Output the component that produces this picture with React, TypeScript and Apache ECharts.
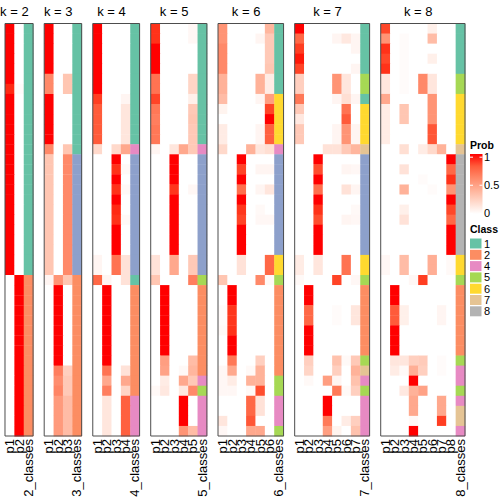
import React, { useEffect, useRef } from "react";
import * as echarts from "echarts";

const FONT = "'Liberation Sans', Arial, Helvetica, sans-serif";

// ---------- data ----------
const kValues = [2, 3, 4, 5, 6, 7, 8];
const sampleIds = Array.from({ length: 41 }, (_, i) => "s" + (i + 1));

const prob2 = [
  [1, 0], [1, 0], [1, 0], [1, 0], [1, 0], [1, 0], [0.95, 0.02], [1, 0], [1, 0], [1, 0],
  [1, 0], [1, 0], [1, 0], [1, 0], [1, 0], [1, 0], [1, 0], [1, 0], [1, 0], [1, 0],
  [1, 0], [1, 0], [1, 0], [1, 0], [1, 0], [0, 1], [0, 1], [0, 1], [0, 1], [0, 1],
  [0, 1], [0, 1], [0, 1], [0, 1], [0, 1], [0, 1], [0, 1], [0, 1], [0, 1], [0, 1], [0, 1],
];
const class2 = [
  1, 1, 1, 1, 1, 1, 1, 1, 1, 1, 1, 1, 1, 1, 1, 1, 1, 1, 1, 1, 1, 1, 1, 1, 1,
  2, 2, 2, 2, 2, 2, 2, 2, 2, 2, 2, 2, 2, 2, 2, 2,
];

const prob3 = [
  [1, 0, 0], [1, 0, 0], [1, 0, 0], [1, 0, 0], [1, 0, 0],
  [0.6, 0, 0.3], [0.6, 0, 0.3],
  [1, 0, 0], [1, 0, 0], [1, 0, 0], [1, 0, 0], [1, 0, 0],
  [0.6, 0, 0.3],
  [0.3, 0, 0.6], [0.3, 0, 0.6], [0.3, 0, 0.6], [0.3, 0, 0.6], [0.3, 0, 0.6], [0.3, 0, 0.6],
  [0.3, 0, 0.6], [0.3, 0, 0.6], [0.3, 0, 0.6], [0.3, 0, 0.6], [0.3, 0, 0.6], [0.3, 0, 0.6],
  [0.05, 0.55, 0.3],
  [0, 1, 0], [0, 1, 0], [0, 1, 0], [0, 1, 0], [0, 1, 0], [0, 1, 0], [0, 1, 0], [0, 1, 0],
  [0, 0.65, 0.25], [0, 0.58, 0.28], [0, 0.62, 0.28],
  [0, 0.52, 0.35], [0, 0.52, 0.35], [0, 0.52, 0.35], [0, 0.52, 0.35],
];
const class3 = [
  1, 1, 1, 1, 1, 1, 1, 1, 1, 1, 1, 1, 1,
  3, 3, 3, 3, 3, 3, 3, 3, 3, 3, 3, 3,
  2, 2, 2, 2, 2, 2, 2, 2, 2, 2, 2, 2, 2, 2, 2, 2,
];

const prob4 = [
  [1, 0, 0, 0], [1, 0, 0, 0], [1, 0, 0, 0], [1, 0, 0, 0], [1, 0, 0, 0], [1, 0, 0, 0], [1, 0, 0, 0],
  [0.9, 0, 0, 0.05],
  [0.8, 0, 0, 0.13], [0.8, 0, 0, 0.13], [0.8, 0, 0, 0.13], [0.8, 0, 0, 0.13],
  [0.2, 0, 0.2, 0.45],
  [0, 0, 1, 0], [0, 0, 0.93, 0.03], [0, 0, 1, 0], [0, 0, 0.93, 0.03], [0, 0, 1, 0],
  [0, 0, 0.95, 0], [0, 0, 0.93, 0.03], [0, 0, 1, 0], [0, 0, 1, 0], [0, 0, 1, 0],
  [0.05, 0, 0.7, 0.15], [0.05, 0, 0.7, 0.15],
  [0.75, 0.05, 0, 0.15],
  [0, 1, 0, 0], [0, 1, 0, 0], [0, 1, 0, 0], [0, 1, 0, 0], [0, 1, 0, 0], [0, 1, 0, 0], [0, 1, 0, 0], [0, 1, 0, 0],
  [0, 0.7, 0, 0.15], [0, 0.45, 0, 0.45], [0, 0.65, 0, 0.22],
  [0, 0.13, 0, 0.78], [0, 0.13, 0, 0.78], [0, 0.13, 0, 0.78], [0, 0.13, 0, 0.78],
];
const class4 = [
  1, 1, 1, 1, 1, 1, 1, 1, 1, 1, 1, 1,
  4,
  3, 3, 3, 3, 3, 3, 3, 3, 3, 3, 3, 3,
  1,
  2, 2, 2, 2, 2, 2, 2, 2, 2, 2, 2,
  4, 4, 4, 4,
];

const prob5 = [
  [0.93, 0, 0, 0, 0.04], [0.93, 0, 0, 0, 0.04],
  [1, 0, 0, 0, 0], [1, 0, 0, 0, 0], [1, 0, 0, 0, 0],
  [0.7, 0, 0, 0, 0.22], [0.7, 0, 0, 0, 0.22],
  [0.88, 0, 0, 0, 0.08],
  [0.68, 0, 0, 0, 0.28], [0.65, 0, 0, 0, 0.3], [0.68, 0, 0, 0, 0.28], [0.68, 0, 0, 0, 0.28],
  [0.05, 0, 0.13, 0.45, 0.28],
  [0, 0, 1, 0, 0], [0, 0, 1, 0, 0], [0, 0, 1, 0, 0], [0, 0, 0.92, 0, 0.04],
  [0, 0, 1, 0, 0], [0, 0, 1, 0, 0], [0, 0, 1, 0, 0], [0, 0, 1, 0, 0], [0, 0, 1, 0, 0], [0, 0, 1, 0, 0],
  [0.15, 0, 0.45, 0, 0.28], [0.15, 0, 0.45, 0, 0.28],
  [0.3, 0, 0, 0, 0.65],
  [0, 1, 0, 0, 0], [0, 1, 0, 0, 0], [0, 1, 0, 0, 0], [0, 1, 0, 0, 0], [0, 1, 0, 0, 0], [0, 1, 0, 0, 0], [0, 1, 0, 0, 0],
  [0, 0.5, 0, 0, 0.35], [0, 0.48, 0, 0.03, 0.38], [0, 0.1, 0, 0.45, 0.28], [0.03, 0.12, 0, 0.12, 0.6],
  [0, 0, 0, 1, 0], [0, 0, 0, 1, 0], [0, 0, 0, 1, 0],
  [0, 0, 0, 0.55, 0.35],
];
const class5 = [
  1, 1, 1, 1, 1, 1, 1, 1, 1, 1, 1, 1,
  4,
  3, 3, 3, 3, 3, 3, 3, 3, 3, 3, 3, 3,
  5,
  2, 2, 2, 2, 2, 2, 2, 2, 2,
  4, 5, 4, 4, 4, 4,
];

const prob6 = [
  [0.55, 0, 0, 0, 0, 0.38], [0.55, 0, 0, 0, 0.05, 0.28], [0.6, 0, 0, 0, 0, 0.28], [0.6, 0, 0, 0, 0, 0.28],
  [0.6, 0, 0, 0, 0, 0.3], [0.4, 0, 0, 0, 0.4, 0.1], [0.4, 0, 0, 0, 0.4, 0.1],
  [0.35, 0, 0, 0, 0.05, 0.5], [0.06, 0, 0, 0, 0, 0.88], [0, 0, 0, 0, 0, 1],
  [0.1, 0, 0, 0, 0.05, 0.78], [0.1, 0, 0, 0, 0.05, 0.78],
  [0.2, 0, 0, 0.4, 0.13, 0.17],
  [0, 0, 1, 0, 0, 0], [0, 0, 0.88, 0, 0.05, 0.05], [0, 0, 1, 0, 0, 0], [0, 0, 0.72, 0, 0.05, 0.13],
  [0, 0, 1, 0, 0, 0], [0, 0, 0.92, 0, 0.03, 0], [0, 0, 0.88, 0, 0.04, 0.04],
  [0, 0, 1, 0, 0, 0], [0, 0, 1, 0, 0, 0], [0, 0, 1, 0, 0, 0],
  [0, 0, 0.15, 0, 0, 0.75], [0, 0, 0.15, 0, 0, 0.75],
  [0.3, 0, 0, 0, 0.6, 0.03],
  [0, 1, 0, 0, 0, 0], [0, 1, 0, 0, 0, 0], [0.02, 0.92, 0, 0, 0, 0], [0.02, 0.92, 0, 0, 0, 0],
  [0.03, 0.93, 0, 0, 0, 0], [0, 1, 0, 0, 0, 0], [0, 1, 0, 0, 0, 0],
  [0, 0.68, 0, 0, 0.25, 0], [0.04, 0.45, 0, 0.03, 0.4, 0], [0.04, 0.1, 0, 0.4, 0.4, 0],
  [0.04, 0.04, 0, 0.03, 0.85, 0],
  [0, 0, 0, 0.75, 0.15, 0], [0, 0, 0, 0.75, 0.15, 0], [0.13, 0, 0, 0.82, 0, 0],
  [0.04, 0, 0, 0.45, 0.45, 0],
];
const class6 = [
  1, 1, 1, 1, 1, 1, 1,
  6, 6, 6, 6, 6,
  4,
  3, 3, 3, 3, 3, 3, 3, 3, 3, 3,
  6, 6,
  5,
  2, 2, 2, 2, 2, 2, 2, 2, 2,
  5, 5, 4, 4, 4, 5,
];

const prob7 = [
  [1, 0, 0, 0, 0, 0, 0], [0.75, 0, 0, 0, 0.05, 0.12, 0.05], [0.9, 0, 0, 0, 0, 0, 0.05],
  [0.98, 0, 0, 0, 0, 0, 0], [0.88, 0, 0, 0, 0, 0, 0.05],
  [0.25, 0, 0, 0, 0.55, 0.13, 0], [0.25, 0, 0, 0, 0.55, 0.13, 0],
  [0.68, 0, 0, 0, 0.05, 0.17, 0.05], [0.28, 0, 0, 0, 0, 0.7, 0], [0.12, 0, 0, 0, 0, 0.8, 0],
  [0.28, 0, 0, 0, 0.05, 0.55, 0.05], [0.28, 0, 0, 0, 0.05, 0.55, 0.05],
  [0, 0, 0, 0.15, 0.15, 0.28, 0.38],
  [0, 0, 1, 0, 0, 0, 0], [0, 0, 0.85, 0, 0, 0.05, 0.04], [0, 0, 1, 0, 0, 0, 0],
  [0, 0, 0.72, 0, 0, 0.15, 0.05], [0, 0, 1, 0, 0, 0, 0], [0, 0, 0.93, 0, 0, 0, 0.03],
  [0, 0, 0.85, 0, 0, 0.05, 0.04], [0, 0, 1, 0, 0, 0, 0], [0, 0, 1, 0, 0, 0, 0], [0, 0, 1, 0, 0, 0, 0],
  [0.1, 0, 0.13, 0, 0, 0.7, 0], [0.1, 0, 0.13, 0, 0, 0.7, 0],
  [0.03, 0, 0, 0, 0.88, 0, 0.04],
  [0, 1, 0, 0, 0, 0, 0], [0, 1, 0, 0, 0, 0, 0],
  [0, 0.75, 0, 0, 0.02, 0, 0.13], [0, 0.75, 0, 0, 0.02, 0, 0.13],
  [0, 1, 0, 0, 0, 0, 0], [0, 1, 0, 0, 0, 0, 0], [0, 1, 0, 0, 0, 0, 0],
  [0, 0.25, 0, 0, 0.32, 0.03, 0.28], [0, 0.22, 0, 0, 0.25, 0, 0.4],
  [0, 0.03, 0, 0.5, 0.05, 0, 0.32], [0, 0, 0, 0, 0.67, 0.03, 0.25],
  [0, 0, 0, 1, 0, 0, 0], [0, 0, 0, 1, 0, 0, 0],
  [0, 0, 0, 0.67, 0, 0.1, 0.25], [0, 0, 0, 0.5, 0.06, 0, 0.32],
];
const class7 = [
  1, 1, 1, 1, 1,
  5, 5,
  1,
  6, 6, 6, 6,
  7,
  3, 3, 3, 3, 3, 3, 3, 3, 3, 3,
  6, 6,
  5,
  2, 2, 2, 2, 2, 2, 2,
  5, 7, 4, 5, 4, 4, 4, 4,
];

const prob8 = [
  [0.87, 0, 0, 0, 0, 0.08, 0, 0], [0.55, 0, 0.02, 0, 0, 0.35, 0, 0], [0.93, 0, 0.02, 0, 0, 0, 0, 0],
  [0.87, 0, 0.02, 0, 0, 0.08, 0, 0], [0.93, 0, 0.02, 0, 0, 0, 0, 0],
  [0.13, 0, 0.02, 0, 0.6, 0.13, 0, 0], [0.13, 0, 0.02, 0, 0.6, 0.13, 0, 0],
  [0.45, 0, 0, 0, 0, 0.55, 0, 0], [0.1, 0, 0.3, 0, 0, 0.55, 0, 0], [0.1, 0, 0.3, 0, 0, 0.55, 0, 0],
  [0.1, 0, 0, 0, 0, 0.82, 0, 0], [0.1, 0, 0, 0, 0, 0.82, 0, 0],
  [0, 0, 0.17, 0, 0.1, 0.2, 0.4, 0],
  [0, 0, 0, 0, 0, 0, 0, 1], [0, 0, 0.15, 0, 0, 0, 0, 0.75], [0, 0, 0, 0, 0.02, 0, 0, 0.93],
  [0, 0, 0.4, 0, 0, 0.02, 0, 0.55], [0, 0, 0, 0, 0, 0, 0, 1], [0, 0, 0.08, 0, 0, 0, 0, 0.87],
  [0, 0, 0.15, 0, 0, 0, 0, 0.75], [0, 0, 0, 0, 0, 0, 0, 1], [0, 0, 0, 0, 0, 0, 0, 1], [0, 0, 0, 0, 0, 0, 0, 1],
  [0.04, 0, 0.35, 0, 0, 0.42, 0, 0.03], [0.04, 0, 0.35, 0, 0, 0.42, 0, 0.03],
  [0, 0, 0, 0.04, 0.9, 0, 0, 0],
  [0, 1, 0, 0, 0, 0, 0, 0], [0, 1, 0, 0, 0, 0, 0, 0],
  [0, 0.8, 0.08, 0, 0, 0, 0.05, 0], [0, 0.8, 0.08, 0, 0, 0, 0.05, 0],
  [0, 1, 0, 0, 0, 0, 0, 0], [0, 1, 0, 0, 0, 0, 0, 0], [0, 1, 0, 0, 0, 0, 0, 0],
  [0, 0.13, 0.13, 0.25, 0.27, 0, 0.02, 0], [0, 0.1, 0.03, 0.42, 0.25, 0, 0.02, 0],
  [0, 0, 0, 1, 0, 0, 0, 0], [0, 0, 0.12, 0.4, 0.48, 0, 0, 0],
  [0, 0, 0, 0.45, 0, 0, 0.45, 0], [0, 0, 0, 0.45, 0, 0, 0.45, 0],
  [0, 0, 0, 0.03, 0, 0, 0.9, 0], [0, 0, 0, 1, 0, 0, 0, 0],
];
const class8 = [
  1, 1, 1, 1, 1,
  5, 5,
  6, 6, 6, 6, 6,
  7,
  8, 8, 8, 8, 8, 8, 8, 8, 8, 8,
  6, 6,
  5,
  2, 2, 2, 2, 2, 2, 2,
  5, 4, 4, 5, 4, 7, 7, 4,
];

const probPanels = [prob2, prob3, prob4, prob5, prob6, prob7, prob8];
const classPanels = [class2, class3, class4, class5, class6, class7, class8];

const classColors: Record<number, string> = {
  1: "#66C2A5", 2: "#FC8D62", 3: "#8DA0CB", 4: "#E78AC3",
  5: "#A6D854", 6: "#FFD92F", 7: "#E5C494", 8: "#B3B3B3",
};
const classLegend = [1, 2, 4, 5, 6, 7, 8];
const probTicks = [1, 0.5, 0];
const probTickLabels = ["1", "0.5", "0"];

// ---------- colour helpers (LAB interpolation white -> red) ----------
function srgbToLin(c: number) {
  c /= 255;
  return c <= 0.04045 ? c / 12.92 : Math.pow((c + 0.055) / 1.055, 2.4);
}
function linToSrgb(c: number) {
  c = Math.max(0, Math.min(1, c));
  c = c <= 0.0031308 ? 12.92 * c : 1.055 * Math.pow(c, 1 / 2.4) - 0.055;
  return Math.round(Math.max(0, Math.min(1, c)) * 255);
}
function rgbToLab(rgb: number[]) {
  const R = srgbToLin(rgb[0]), G = srgbToLin(rgb[1]), B = srgbToLin(rgb[2]);
  const X = (0.4124 * R + 0.3576 * G + 0.1805 * B) / 0.95047;
  const Y = 0.2126 * R + 0.7152 * G + 0.0722 * B;
  const Z = (0.0193 * R + 0.1192 * G + 0.9505 * B) / 1.08883;
  const f = (t: number) => (t > 0.008856 ? Math.cbrt(t) : 7.787 * t + 16 / 116);
  const fx = f(X), fy = f(Y), fz = f(Z);
  return [116 * fy - 16, 500 * (fx - fy), 200 * (fy - fz)];
}
function labToRgb(lab: number[]) {
  const fy = (lab[0] + 16) / 116, fx = fy + lab[1] / 500, fz = fy - lab[2] / 200;
  const inv = (t: number) => (t * t * t > 0.008856 ? t * t * t : (t - 16 / 116) / 7.787);
  const X = inv(fx) * 0.95047, Y = inv(fy), Z = inv(fz) * 1.08883;
  const R = 3.2406 * X - 1.5372 * Y - 0.4986 * Z;
  const G = -0.9689 * X + 1.8758 * Y + 0.0415 * Z;
  const B = 0.0557 * X - 0.204 * Y + 1.057 * Z;
  return `rgb(${linToSrgb(R)},${linToSrgb(G)},${linToSrgb(B)})`;
}
const LAB_WHITE = rgbToLab([255, 255, 255]);
const LAB_RED = rgbToLab([255, 0, 0]);
function probColor(v: number) {
  const t = Math.max(0, Math.min(1, v));
  return labToRgb([0, 1, 2].map((i) => LAB_WHITE[i] + (LAB_RED[i] - LAB_WHITE[i]) * t));
}

// ---------- layout ----------
const COL_W = 9.367;
const GAP = 11.1;
const X0 = 5;
const TOP = 23.5;
const HEIGHT = 412.5;

function buildOption() {
  const grid: any[] = [];
  const xAxis: any[] = [];
  const yAxis: any[] = [];
  const series: any[] = [];
  const graphic: any[] = [];
  let cum = 0;

  kValues.forEach((k, i) => {
    const ncol = k + 1;
    const left = X0 + cum * COL_W + i * GAP;
    cum += ncol;
    const width = ncol * COL_W;
    grid.push({ left, top: TOP, width, height: HEIGHT, containLabel: false });
    const labels: string[] = [];
    for (let c = 1; c <= k; c++) labels.push("p" + c);
    labels.push(k + "_classes");
    xAxis.push({
      type: "category",
      gridIndex: i,
      data: labels,
      position: "bottom",
      axisLine: { show: false },
      axisTick: { show: false },
      splitLine: { show: false },
      axisLabel: { rotate: 90, interval: 0, margin: 3, fontSize: 13, color: "#000", fontFamily: FONT },
    });
    yAxis.push({ type: "category", gridIndex: i, data: sampleIds, inverse: true, show: false });

    const data: any[] = [];
    probPanels[i].forEach((row, r) => {
      row.forEach((v, c) => data.push([c, r, v, 0]));
      data.push([k, r, classPanels[i][r], 1]);
    });
    series.push({
      type: "custom",
      xAxisIndex: i,
      yAxisIndex: i,
      encode: { x: 0, y: 1 },
      data,
      renderItem: (params: any, api: any) => {
        const p = api.coord([api.value(0), api.value(1)]);
        const s = api.size([1, 1]);
        const v = api.value(2);
        const isClass = api.value(3) === 1;
        const fill = isClass ? classColors[v] : probColor(v);
        return {
          type: "rect",
          shape: { x: p[0] - s[0] / 2, y: p[1] - s[1] / 2, width: s[0] + 0.4, height: s[1] + 0.4 },
          style: { fill },
        };
      },
    });

    graphic.push({
      type: "rect",
      shape: { x: left, y: TOP, width, height: HEIGHT },
      style: { fill: "none", stroke: "#4d4d4d", lineWidth: 1 },
      z: 100,
      silent: true,
    });
    graphic.push({
      type: "text",
      x: left + (k * COL_W) / 2,
      y: 11,
      style: {
        text: "k = " + k,
        textAlign: "center",
        textVerticalAlign: "middle",
        fontSize: 13,
        fontFamily: FONT,
        fill: "#000",
      },
      z: 100,
    });
  });

  // Prob legend
  const LX = 470;
  graphic.push({
    type: "text",
    x: LX,
    y: 145.3,
    style: { text: "Prob", fontSize: 10.5, fontWeight: "bold", fontFamily: FONT, fill: "#000", textVerticalAlign: "middle" },
  });
  const barTop = 154, barBottom = 214;
  const v1y = 157.2, v0y = 213.3;
  const stops = [0, 0.2, 0.4, 0.6, 0.8, 1].map((o) => ({ offset: o, color: probColor(1 - o) }));
  graphic.push({
    type: "rect",
    shape: { x: LX, y: barTop, width: 12.5, height: barBottom - barTop },
    style: { fill: { type: "linear", x: 0, y: 0, x2: 0, y2: 1, colorStops: stops } },
  });
  probTicks.forEach((t, j) => {
    const y = v0y + (v1y - v0y) * t;
    graphic.push({ type: "line", shape: { x1: LX, y1: y, x2: LX + 3, y2: y }, style: { stroke: "#fff", lineWidth: 1 } });
    graphic.push({ type: "line", shape: { x1: LX + 9.5, y1: y, x2: LX + 12.5, y2: y }, style: { stroke: "#fff", lineWidth: 1 } });
    graphic.push({
      type: "text",
      x: 484,
      y,
      style: { text: probTickLabels[j], fontSize: 11, fontFamily: FONT, fill: "#000", textVerticalAlign: "middle" },
    });
  });

  // Class legend
  graphic.push({
    type: "text",
    x: LX,
    y: 229.3,
    style: { text: "Class", fontSize: 10.5, fontWeight: "bold", fontFamily: FONT, fill: "#000", textVerticalAlign: "middle" },
  });
  classLegend.forEach((c, j) => {
    const y = 238.5 + j * 11.3;
    graphic.push({
      type: "rect",
      shape: { x: LX, y, width: 11.5, height: 10 },
      style: { fill: classColors[c] },
    });
    graphic.push({
      type: "text",
      x: 484,
      y: y + 5,
      style: { text: String(c), fontSize: 11, fontFamily: FONT, fill: "#000", textVerticalAlign: "middle" },
    });
  });

  return { animation: false, backgroundColor: "#fff", grid, xAxis, yAxis, series, graphic };
}

export default function App() {
  const ref = useRef<HTMLDivElement>(null);
  useEffect(() => {
    if (!ref.current) return;
    const chart = echarts.init(ref.current, undefined, { renderer: "svg" });
    chart.setOption(buildOption() as any);
    return () => chart.dispose();
  }, []);
  return (
    <div
      ref={ref}
      style={{ position: "fixed", left: 0, top: 0, width: 504, height: 504, background: "#fff" }}
    />
  );
}
